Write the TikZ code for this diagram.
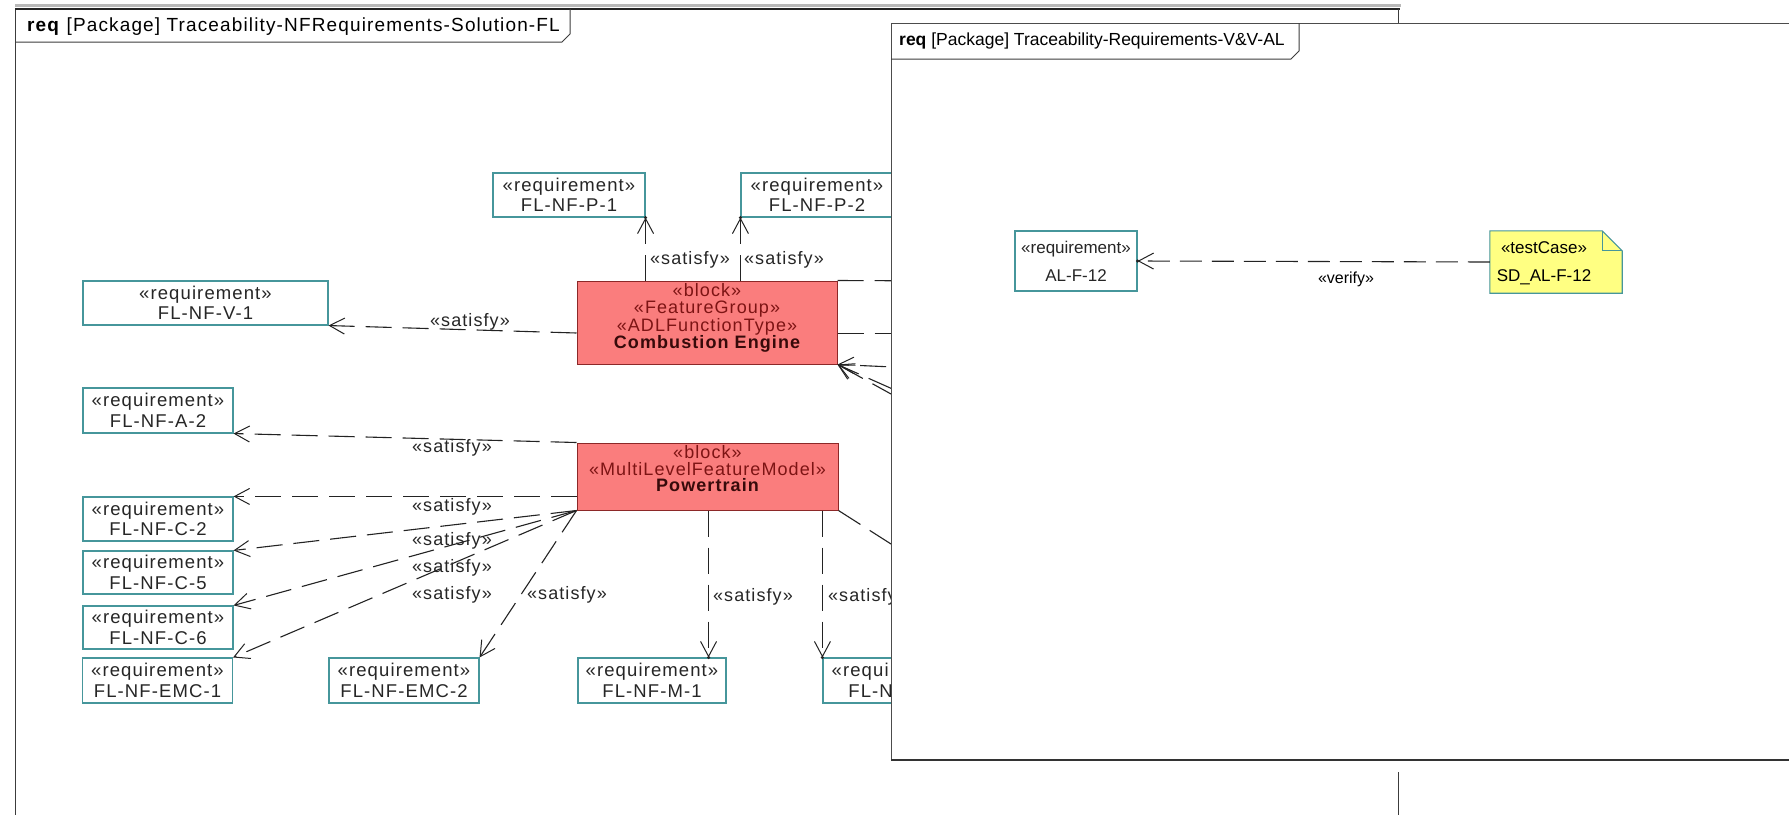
\documentclass[tikz,border=0pt]{standalone}
\usepackage{fontspec}
\setmainfont{Liberation Sans}
\newfontfamily\lsfont[LetterSpace=6]{Liberation Sans}
\usetikzlibrary{arrows.meta,calc}
\definecolor{reqc}{RGB}{70,150,155}
\definecolor{blockfill}{RGB}{250,125,125}
\definecolor{blockline}{RGB}{140,40,40}
\definecolor{stereo}{RGB}{125,20,20}
\definecolor{bname}{RGB}{55,10,10}
\definecolor{notefill}{RGB}{255,255,130}
\definecolor{linec}{RGB}{35,35,35}
\definecolor{framec}{RGB}{60,60,60}
\begin{document}
\begin{tikzpicture}[x=1pt,y=-1pt,
  reqbox/.style={draw=reqc, fill=white, line width=1.1pt, inner sep=0pt, align=center, text=black!85, font=\lsfont\fontsize{18.5}{20.5}\selectfont},
  blockbox/.style={draw=blockline, fill=blockfill, line width=1pt, inner sep=0pt},
  blocktext/.style={anchor=north, align=center, inner sep=0pt, text=stereo, font=\lsfont\fontsize{18}{16.5}\selectfont},
  satlabel/.style={inner sep=0pt, text=black!85, font=\lsfont\fontsize{18}{20}\selectfont},
  sat/.style={draw=linec, line width=1.1pt, dash pattern=on 26pt off 11pt, -{Straight Barb[length=15pt,width=16pt,line width=1pt]}},
  plainsat/.style={draw=linec, line width=1.1pt, dash pattern=on 26pt off 11pt},
  tipdot/.style={fill=linec, circle, inner sep=0pt, minimum size=3.5pt},
  rfont/.style={font=\fontsize{17}{28}\selectfont},
  frameline/.style={draw=framec, line width=1pt},
]
\useasboundingbox (0,0) rectangle (1789,815);
\fill[white] (0,0) rectangle (1789,815);

% ---------- left frame ----------
\draw[gray!55, line width=2.5pt] (15,5.5) -- (1401,5.5);
\draw[frameline] (15,9) -- (15,815);
\draw[black!85, line width=2pt] (15,9) -- (1400,9);
\draw[frameline] (1398,9) -- (1398,23);
\draw[frameline] (1398,772) -- (1398,815);
\draw[frameline] (15,42) -- (562,42) -- (570,34) -- (570,9);
\node[anchor=west, inner sep=0pt, font=\lsfont\fontsize{19}{20}\selectfont] (t1) at (27,27) {\textbf{req} [Package] Traceability-NFRequirements-Solution-FL};

% requirements
\node[reqbox, minimum width=152pt, minimum height=44pt] (p1) at (569,195) {«requirement»\\FL-NF-P-1};
\node[reqbox, minimum width=152pt, minimum height=44pt] (p2) at (817,195) {«requirement»\\FL-NF-P-2};
\node[reqbox, minimum width=245pt, minimum height=44pt] (v1) at (205.5,303) {«requirement»\\FL-NF-V-1};
\node[reqbox, minimum width=150pt, minimum height=45pt] (a2) at (158,410.5) {«requirement»\\FL-NF-A-2};
\node[reqbox, minimum width=150pt, minimum height=44pt] (c2) at (158,519) {«requirement»\\FL-NF-C-2};
\node[reqbox, minimum width=150pt, minimum height=43pt] (c5) at (158,572.5) {«requirement»\\FL-NF-C-5};
\node[reqbox, minimum width=150pt, minimum height=43pt] (c6) at (158,627.5) {«requirement»\\FL-NF-C-6};
\node[reqbox, minimum width=150pt, minimum height=45pt] (emc1) at (157.5,680.5) {«requirement»\\FL-NF-EMC-1};
\node[reqbox, minimum width=150pt, minimum height=45pt] (emc2) at (404,680.5) {«requirement»\\FL-NF-EMC-2};
\node[reqbox, minimum width=148pt, minimum height=45pt] (m1) at (652,680.5) {«requirement»\\FL-NF-M-1};
\node[reqbox, minimum width=150pt, minimum height=45pt] (m2) at (898,680.5) {«requirement»\\FL-NF-M-2};

% blocks
\node[blockbox, minimum width=260pt, minimum height=83pt] (ce) at (707,322.5) {};
\node[blocktext] (cet) at ($(ce.north)+(0,3)$) {«block»\\«FeatureGroup»\\«ADLFunctionType»\\\textcolor{bname}{\bfseries Combustion Engine}};
\node[blockbox, minimum width=261pt, minimum height=67pt] (pt) at (707.5,476.5) {};
\node[blocktext] (ptt) at ($(pt.north)+(0,3)$) {«block»\\«MultiLevelFeatureModel»\\\textcolor{bname}{\bfseries Powertrain}};

% connectors
\draw[sat] (p1.south east |- ce.north) -- (p1.south east);
\node[tipdot] (d1) at (p1.south east) {};
\draw[sat] (p2.south west |- ce.north) -- (p2.south west);
\node[tipdot] (d2) at (p2.south west) {};
\draw[sat] ($(ce.west)+(0,10.5)$) -- (v1.south east);
\draw[sat] (pt.north west) -- (a2.south east);
\draw[sat] (c2.north east -| pt.west) -- (c2.north east);
\draw[sat] (pt.south west) -- (c5.north east);
\draw[sat] (pt.south west) -- (c6.north east);
\draw[sat] (pt.south west) -- (emc1.north east);
\draw[sat] (pt.south west) -- (emc2.north east);
\coordinate (m1tip) at ($(m1.north east)+(-18,0)$);
\draw[sat] (m1tip |- pt.south) -- (m1tip);
\node[tipdot] (d3) at (m1tip) {};
\draw[sat] (m2.north west |- pt.south) -- (m2.north west);
\node[tipdot] (d4) at (m2.north west) {};
\coordinate (o1) at (960,281);
\draw[plainsat] (ce.north east) -- (o1);
\coordinate (o2) at (960,333.5);
\draw[plainsat] ($(ce.east)+(0,11)$) -- (o2);
\coordinate (o3) at (960,370);
\draw[sat] (o3) -- (ce.south east);
\coordinate (o4) at (960,419);
\draw[sat] (o4) -- (ce.south east);
\coordinate (o5) at (960,432);
\draw[sat] (o5) -- (ce.south east);
\coordinate (o6) at (960,588);
\draw[plainsat] (pt.south east) -- (o6);

% labels
\node[satlabel] (l1) at (690,260) {«satisfy»};
\node[satlabel] (l2) at (784,260) {«satisfy»};
\node[satlabel] (l3) at (470,322) {«satisfy»};
\node[satlabel] (l4) at (452,448) {«satisfy»};
\node[satlabel] (l5) at (452,507) {«satisfy»};
\node[satlabel] (l6) at (452,541) {«satisfy»};
\node[satlabel] (l7) at (452,568) {«satisfy»};
\node[satlabel] (l8) at (452,595) {«satisfy»};
\node[satlabel] (l9) at (567,595) {«satisfy»};
\node[satlabel] (l10) at (753,597) {«satisfy»};
\node[satlabel] (l11) at (868,597) {«satisfy»};

% ---------- right (overlay) frame ----------
\fill[white] (891,23) rectangle (1789,760);
\draw[draw=black!70, line width=1pt] (1789,23) -- (891,23) -- (891,760);
\draw[black!80, line width=2.5pt] (891,760) -- (1789,760);
\draw[frameline] (891,59) -- (1291,59) -- (1299,51) -- (1299,23);
\node[anchor=west, inner sep=0pt, font=\fontsize{17.5}{20}\selectfont] (t2) at (899,41) {\textbf{req} [Package] Traceability-Requirements-V\&V-AL};

\node[reqbox, rfont, minimum width=122pt, minimum height=60pt] (al) at (1076,261) {«requirement»\\AL-F-12};
\node[inner sep=0pt, minimum width=132pt, minimum height=62pt] (tc) at (1556,262) {};
\filldraw[fill=notefill, draw=reqc, line width=1.1pt] (tc.south west) -- (tc.north west) -- ($(tc.north east)+(-20,0)$) -- ($(tc.north east)+(0,20)$) -- (tc.south east) -- cycle;
\draw[reqc, line width=1.1pt] ($(tc.north east)+(-20,0)$) -- ($(tc.north east)+(-20,20)$) -- ($(tc.north east)+(0,20)$);
\node[align=center, rfont, inner sep=0pt] (tct) at (1544,263) {«testCase»\\SD\_AL-F-12};
\draw[sat, dash pattern=on 22pt off 10pt] (tc.west) -- (al.east);
\node[tipdot] (d5) at (al.east) {};
\node[inner sep=0pt, font=\fontsize{16}{18}\selectfont] (vl) at (1346,279) {«verify»};
\end{tikzpicture}
\end{document}
